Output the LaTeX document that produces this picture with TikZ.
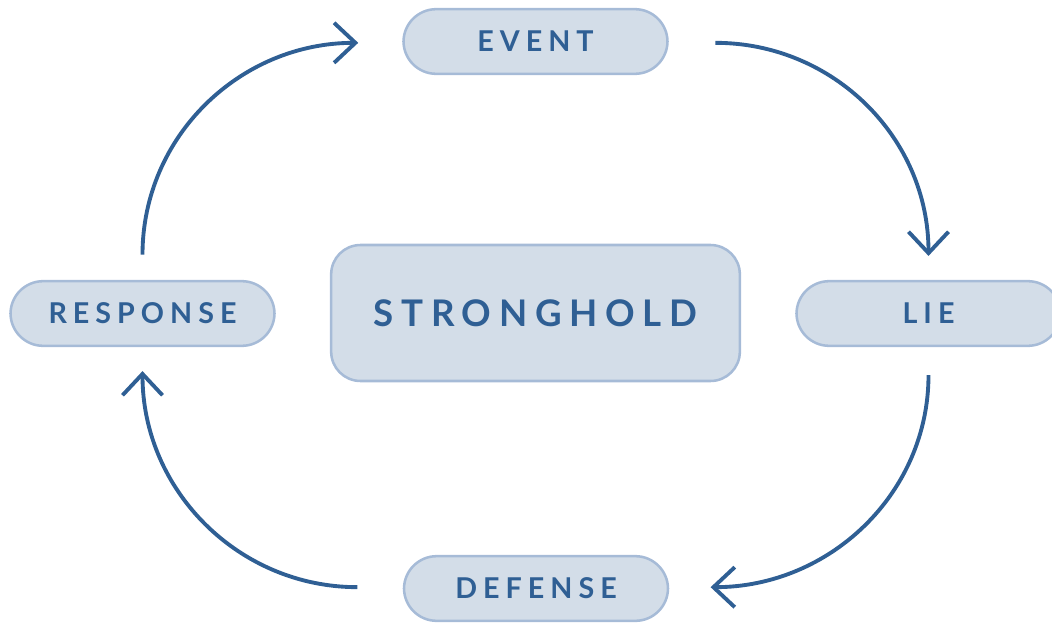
\documentclass[tikz,border=0pt]{standalone}
\usepackage{fontspec}
\setmainfont{Lato}
\newfontfamily\lblfont[LetterSpace=21]{Lato Bold}
\usetikzlibrary{arrows.meta}
\definecolor{boxfill}{HTML}{D3DDE8}
\definecolor{boxline}{HTML}{A6BBD7}
\definecolor{ink}{HTML}{2F5F94}
\tikzset{
  pill/.style={draw=boxline, fill=boxfill, line width=1.9pt, rounded corners=24.5pt,
    minimum width=198pt, minimum height=48.5pt, inner sep=0pt,
    text=ink, font=\lblfont\fontsize{21.5}{21.5}\selectfont},
  bigbox/.style={draw=boxline, fill=boxfill, line width=1.9pt, rounded corners=22pt,
    minimum width=306.5pt, minimum height=102pt, inner sep=0pt,
    text=ink, font=\lblfont\fontsize{27.5}{27.5}\selectfont},
  arr/.style={draw=ink, line width=2.9pt,
    -{Straight Barb[length=16pt,width=30pt,line width=2.9pt]}}
}
\begin{document}
\begin{tikzpicture}[x=0.75pt,y=-0.75pt]
\useasboundingbox (0,0) rectangle (1052,624);
\begin{scope}
\clip (0,0) rectangle (1052,624);
\node[pill] (ev) at (535.5,41.5) {EVENT};
\node[pill] (lie) at (928.5,313.5) {LIE};
\node[pill] (def) at (536,588.5) {DEFENSE};
\node[pill] (resp) at (142.5,313.5) {RESPONSE};
\node[bigbox] (sh) at (535.5,313) {STRONGHOLD};
\end{scope}
\draw[arr] ([xshift=35pt,yshift=-1pt]ev.east) to[out=0,in=90] ([yshift=18pt]lie.north);
\draw[arr] ([yshift=-21pt]lie.south) to[out=-90,in=0] ([xshift=31pt,yshift=1pt]def.east);
\draw[arr] ([xshift=-34pt,yshift=1pt]def.west) to[out=180,in=-90] ([yshift=-18pt]resp.south);
\draw[arr] ([yshift=19pt]resp.north) to[out=90,in=180] ([xshift=-33pt,yshift=-1pt]ev.west);
\end{tikzpicture}
\end{document}
